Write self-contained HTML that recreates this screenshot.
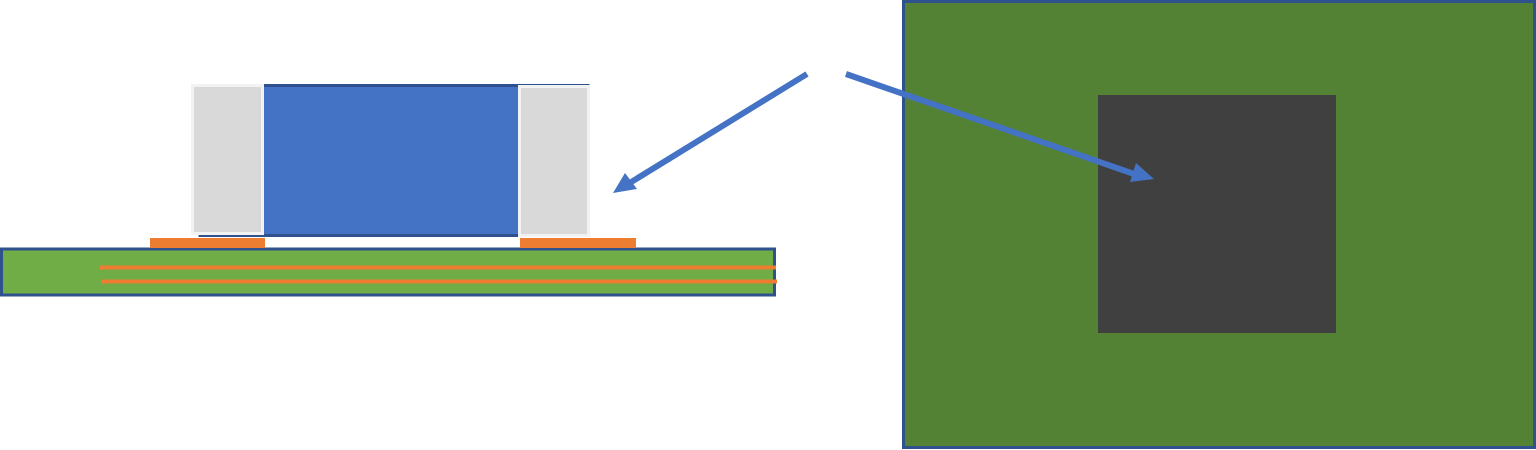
<!DOCTYPE html>
<html><head><meta charset="utf-8"><style>
html,body{margin:0;padding:0;background:#fff;width:1536px;height:450px;overflow:hidden}
svg{display:block}
</style></head><body>
<svg width="1536" height="450" viewBox="0 0 1536 450" xmlns="http://www.w3.org/2000/svg">
<!-- right board -->
<rect x="903.5" y="1.5" width="631" height="446" fill="#548235" stroke="#2f528f" stroke-width="3"/>
<rect x="1098" y="95" width="238" height="238" fill="#404040"/>
<!-- PCB -->
<rect x="1.5" y="249" width="773" height="46" fill="#70ad47" stroke="#2f528f" stroke-width="3"/>
<rect x="100" y="265.5" width="676" height="4" fill="#ed7d31"/>
<rect x="101" y="279.5" width="676" height="4" fill="#ed7d31"/>
<!-- pads -->
<rect x="150" y="238" width="115" height="10" fill="#ed7d31"/>
<rect x="520" y="238" width="116" height="10" fill="#ed7d31"/>
<!-- body -->
<rect x="200" y="85.5" width="388" height="150" fill="#4472c4" stroke="#2f528f" stroke-width="3"/>
<!-- caps -->
<rect x="192.5" y="85.5" width="70" height="148" fill="#d9d9d9" stroke="#f2f2f2" stroke-width="3"/>
<rect x="519.5" y="86.5" width="69" height="149" fill="#d9d9d9" stroke="#f2f2f2" stroke-width="3"/>
<!-- arrows -->
<line x1="807" y1="74" x2="628" y2="184" stroke="#4472c4" stroke-width="6"/>
<polygon points="613,193 625,173 637,189" fill="#4472c4"/>
<line x1="846" y1="74" x2="1137" y2="175" stroke="#4472c4" stroke-width="6"/>
<polygon points="1154,179 1136,163 1130,182" fill="#4472c4"/>
</svg>
</body></html>
